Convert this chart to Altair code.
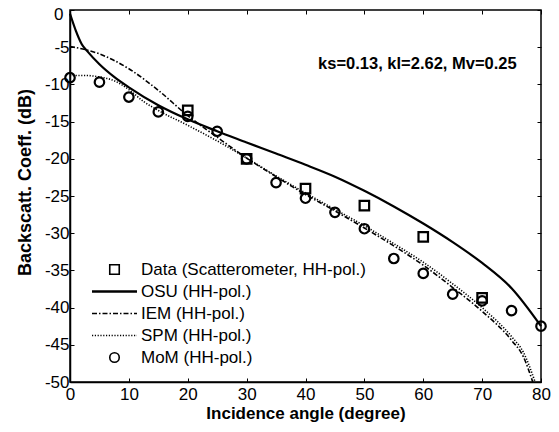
import altair as alt
import pandas as pd
import numpy as np

# ---------------- data ----------------
data_angle = [20, 30, 40, 50, 60, 70]
data_sigma = [-13.5, -20.0, -24.0, -26.3, -30.5, -38.7]

mom_angle = [0, 5, 10, 15, 20, 25, 30, 35, 40, 45, 50, 55, 60, 65, 70, 75, 80]
mom_sigma = [-9.1, -9.7, -11.7, -13.7, -14.3, -16.3, -20.0, -23.2, -25.3, -27.2,
             -29.4, -33.4, -35.4, -38.2, -39.1, -40.4, -42.5]

osu_angle = [0, 1, 2, 3, 5, 7.5, 10, 15, 20, 25, 30, 35, 40, 45, 50, 55, 60, 65, 70, 75, 80]
osu_sigma = [-0.5, -2.8, -4.6, -5.6, -7.3, -9.0, -10.4, -12.8, -14.7, -16.3, -17.8,
             -19.3, -20.8, -22.4, -24.3, -26.4, -28.7, -31.2, -34.0, -37.4, -42.5]

iem_angle = [0, 5, 10, 15, 20, 25, 30, 35, 40, 45, 50, 55, 60, 65, 70, 75, 77, 78.6]
iem_sigma = [-4.9, -5.9, -7.9, -10.8, -14.2, -17.1, -19.9, -22.4, -24.8, -27.0,
             -29.3, -31.7, -34.3, -37.3, -40.5, -44.4, -46.6, -50.0]

spm_angle = [0, 2.5, 5, 7.5, 10, 12.5, 15, 20, 25, 30, 35, 40, 45, 50, 55, 60, 65, 70, 75, 77, 79]
spm_sigma = [-8.8, -8.8, -9.0, -9.5, -10.7, -12.3, -13.5, -15.5, -17.6, -19.9, -22.3,
             -24.6, -26.8, -29.0, -31.4, -33.9, -36.8, -40.0, -43.9, -46.0, -50.0]

series_labels = ["Data (Scatterometer, HH-pol.)", "OSU (HH-pol.)", "IEM (HH-pol.)",
                 "SPM (HH-pol.)", "MoM (HH-pol.)"]

annotation = "ks=0.13, kl=2.62, Mv=0.25"

x_ticks = list(range(0, 81, 10))
y_ticks = list(range(-50, 1, 5))

# ---------------- tables ----------------
pts = pd.DataFrame({
    "angle": data_angle + mom_angle,
    "sigma": data_sigma + mom_sigma,
    "series": [series_labels[0]] * len(data_angle) + [series_labels[4]] * len(mom_angle),
})
osu = pd.DataFrame({"angle": osu_angle, "sigma": osu_sigma})
iem = pd.DataFrame({"angle": iem_angle, "sigma": iem_sigma})
spm = pd.DataFrame({"angle": spm_angle, "sigma": spm_sigma})
ann = pd.DataFrame({"angle": [59], "sigma": [-7.2], "text": [annotation]})

FONT = "Liberation Sans"
SYM = 90
k = np.sqrt(SYM) / 2.0
HALF = 22.5  # half length of legend line sample, px


def seg_path(pattern):
    # legend line sample drawn as separate sub-paths following a dash pattern (px)
    parts = []
    x = -HALF
    i = 0
    while x < HALF:
        L = pattern[i % len(pattern)]
        if i % 2 == 0:
            x2 = min(x + L, HALF)
            parts.append(f"M{x / k:.3f},0H{x2 / k:.3f}")
        x += L
        i += 1
    return "".join(parts)


solid_path = f"M{-HALF / k:.3f},-0.1H{HALF / k:.3f}M{-HALF / k:.3f},0.1H{HALF / k:.3f}"
dashdot_path = seg_path([5, 2, 1.5, 2])
dot_path = seg_path([1.2, 1.6])

shape_range = ["square", solid_path, dashdot_path, dot_path, "circle"]

xs = alt.Scale(domain=[0, 80], nice=False, zero=False)
ys = alt.Scale(domain=[-50, 0], nice=False, zero=False)

# main axes (labels + titles, no ticks)
x_main = alt.Axis(values=x_ticks, orient="bottom", ticks=False, tickSize=0, grid=False,
                  labelFlush=False, labelExpr="'' + datum.value",
                  domainColor="black", domainWidth=1.5, labelFont=FONT, labelFontSize=17,
                  labelColor="black", labelPadding=4, title="Incidence angle (degree)",
                  titleFont=FONT, titleFontSize=17, titleFontWeight="bold",
                  titleColor="black", titlePadding=3)
y_main = alt.Axis(values=y_ticks, orient="left", ticks=False, tickSize=0, grid=False,
                  labelFlush=False,
                  domainColor="black", domainWidth=1.5, labelFont=FONT, labelFontSize=17,
                  labelColor="black", labelPadding=1,
                  labelExpr="datum.value == 0 ? '' : '' + datum.value",
                  title="Backscatt. Coeff. (dB)", titleFont=FONT, titleFontSize=18,
                  titleFontWeight="bold", titleColor="black", titlePadding=10, titleY=172)

TK = 4
x_bot_ticks = alt.Axis(values=x_ticks, orient="bottom", offset=-TK, tickSize=TK,
                       tickColor="black", domain=False, labels=False, grid=False, title=None)
y_left_ticks = alt.Axis(values=y_ticks, orient="left", offset=-TK, tickSize=TK,
                        tickColor="black", domain=False, grid=False, title=None,
                        labelFlush=False,
                        labelFont=FONT, labelFontSize=17, labelColor="black",
                        labelPadding=7, labelOffset=4,
                        labelExpr="datum.value == 0 ? '0' : ''")
x_top_ticks = alt.Axis(values=x_ticks, orient="top", offset=-TK, tickSize=TK,
                       tickColor="black", domain=False, labels=False, grid=False, title=None)
y_right_ticks = alt.Axis(values=y_ticks, orient="right", offset=-TK, tickSize=TK,
                         tickColor="black", domain=False, labels=False, grid=False, title=None)

osu_layer = alt.Chart(osu).mark_line(color="black", strokeWidth=2.2, interpolate="monotone").encode(
    x=alt.X("angle:Q", scale=xs, axis=x_main),
    y=alt.Y("sigma:Q", scale=ys, axis=y_main),
)
iem_layer = alt.Chart(iem).mark_line(color="black", strokeWidth=1.6, strokeDash=[5, 2, 1.5, 2],
                                     interpolate="monotone").encode(
    x=alt.X("angle:Q", scale=xs, axis=x_bot_ticks),
    y=alt.Y("sigma:Q", scale=ys, axis=y_left_ticks),
)
spm_layer = alt.Chart(spm).mark_line(color="black", strokeWidth=1.6, strokeDash=[1.2, 1.6],
                                     interpolate="monotone").encode(
    x=alt.X("angle:Q", scale=xs, axis=x_top_ticks),
    y=alt.Y("sigma:Q", scale=ys, axis=y_right_ticks),
)
pts_layer = alt.Chart(pts).mark_point(filled=False, color="black", strokeWidth=2.2, size=SYM, opacity=1).encode(
    x=alt.X("angle:Q", scale=xs, axis=None),
    y=alt.Y("sigma:Q", scale=ys, axis=None),
    shape=alt.Shape("series:N",
                    scale=alt.Scale(domain=series_labels, range=shape_range),
                    legend=alt.Legend(title=None, orient="none", legendX=36, legendY=251,
                                      padding=0, labelFont=FONT, labelFontSize=17,
                                      labelColor="black", labelOffset=18, rowPadding=4,
                                      symbolSize=SYM, symbolStrokeColor="black",
                                      symbolFillColor="transparent", symbolStrokeWidth=1.6,
                                      symbolOpacity=1, labelLimit=400)),
)
ann_layer = alt.Chart(ann).mark_text(font=FONT, fontSize=16.5, fontWeight="bold", color="black",
                                     align="center", baseline="middle").encode(
    x=alt.X("angle:Q", scale=xs, axis=None),
    y=alt.Y("sigma:Q", scale=ys, axis=None),
    text="text:N",
)

chart = alt.layer(osu_layer, iem_layer, spm_layer, pts_layer, ann_layer).resolve_axis(
    x="independent", y="independent"
).properties(
    width=471, height=372,
    autosize=alt.AutoSizeParams(type="none"),
    padding={"left": 62, "top": 2, "right": 10, "bottom": 42},
    background="white",
).configure_view(stroke="black", strokeWidth=1.5)

chart.save("out.html", embed_options={"renderer": "svg", "actions": False})
